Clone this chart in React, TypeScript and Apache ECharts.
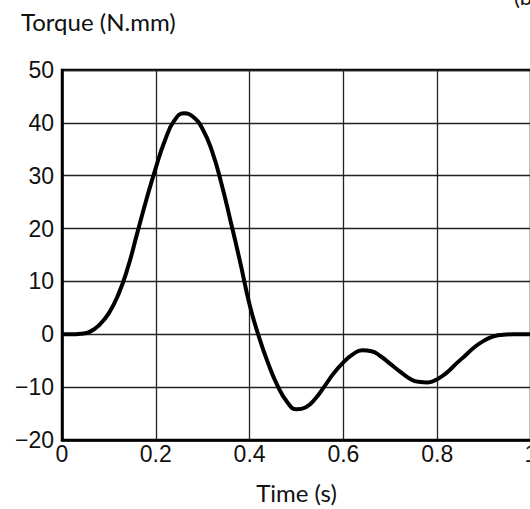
import React, { useEffect, useRef } from "react";
import * as echarts from "echarts";

const timeValues = [0, 0.02, 0.04, 0.06, 0.08, 0.1, 0.12, 0.14, 0.16, 0.18, 0.2, 0.22, 0.24, 0.26, 0.28, 0.3, 0.32, 0.34, 0.36, 0.38, 0.4, 0.42, 0.44, 0.46, 0.48, 0.5, 0.52, 0.54, 0.56, 0.58, 0.6, 0.62, 0.64, 0.66, 0.68, 0.7, 0.72, 0.74, 0.76, 0.78, 0.8, 0.82, 0.84, 0.86, 0.88, 0.9, 0.92, 0.94, 0.96, 0.98, 1.0];
const torqueValues = [0, 0, 0.1, 0.5, 1.8, 4, 7.5, 12.5, 19, 25.5, 31.5, 36.8, 40.5, 41.8, 41.1, 38.8, 34.6, 28.5, 21.2, 13.6, 5.6, -0.5, -5.6, -9.8, -12.8, -14.2, -13.8, -12.2, -9.8, -7.3, -5.3, -3.8, -3, -3.2, -4.2, -5.6, -7, -8.3, -9, -9.1, -8.5, -7.3, -5.6, -4, -2.4, -1.2, -0.4, -0.1, 0, 0, 0];

const xTicks = [0, 0.2, 0.4, 0.6, 0.8, 1];
const yTicks = [-20, -10, 0, 10, 20, 30, 40, 50];

const yAxisTitle = "Torque (N.mm)";
const xAxisTitle = "Time (s)";

export default function App() {
  const ref = useRef<HTMLDivElement>(null);
  useEffect(() => {
    if (!ref.current) return;
    const chart = echarts.init(ref.current, null, { renderer: "svg" });
    const tickFont = "Liberation Sans";
    const titleFont = "Lato";
    chart.setOption({
      animation: false,
      backgroundColor: "#fff",
      grid: {
        left: 62,
        top: 70,
        width: 469,
        height: 370,
        show: true,
        borderColor: "#000",
        borderWidth: 2.5,
        containLabel: false,
        outerBoundsMode: "none",
      },
      graphic: [
        {
          type: "text",
          left: 21,
          top: 9,
          style: { text: yAxisTitle, fontSize: 24, fontFamily: titleFont, fill: "#111" },
        },
        {
          type: "text",
          left: 514,
          top: -15,
          style: { text: "(b)", fontSize: 22, fontFamily: titleFont, fill: "#111" },
        },
      ],
      xAxis: {
        type: "value",
        min: xTicks[0],
        max: xTicks[xTicks.length - 1],
        interval: 0.2,
        name: xAxisTitle,
        nameLocation: "middle",
        nameGap: 40,
        nameTextStyle: { fontSize: 24, fontFamily: titleFont, color: "#111" },
        axisLine: { show: true, onZero: false, lineStyle: { color: "#000", width: 2.5 } },
        axisTick: { show: false },
        axisLabel: {
          fontSize: 23,
          fontFamily: tickFont,
          color: "#111",
          margin: 2,
          formatter: (v: number) => {
            const r = Math.round(v * 10) / 10;
            return xTicks.includes(r) ? String(r) : "";
          },
        },
        splitLine: { show: true, lineStyle: { color: "#222", width: 1.3 } },
      },
      yAxis: {
        type: "value",
        min: yTicks[0],
        max: yTicks[yTicks.length - 1],
        interval: 10,
        axisLine: { show: true, onZero: false, lineStyle: { color: "#000", width: 2.5 } },
        axisTick: { show: false },
        axisLabel: {
          fontSize: 23,
          fontFamily: tickFont,
          color: "#111",
          margin: 8,
          formatter: (v: number) => (v < 0 ? "\u2212" + Math.abs(v) : String(v)),
        },
        splitLine: { show: true, lineStyle: { color: "#222", width: 1.3 } },
      },
      series: [
        {
          type: "line",
          data: timeValues.map((t, i) => [t, torqueValues[i]]),
          smooth: 0.5,
          showSymbol: false,
          lineStyle: { color: "#000", width: 4 },
          z: 5,
        },
      ],
    });
    return () => chart.dispose();
  }, []);
  return <div ref={ref} style={{ width: 530, height: 509, position: "absolute", left: 0, top: 0 }} />;
}
